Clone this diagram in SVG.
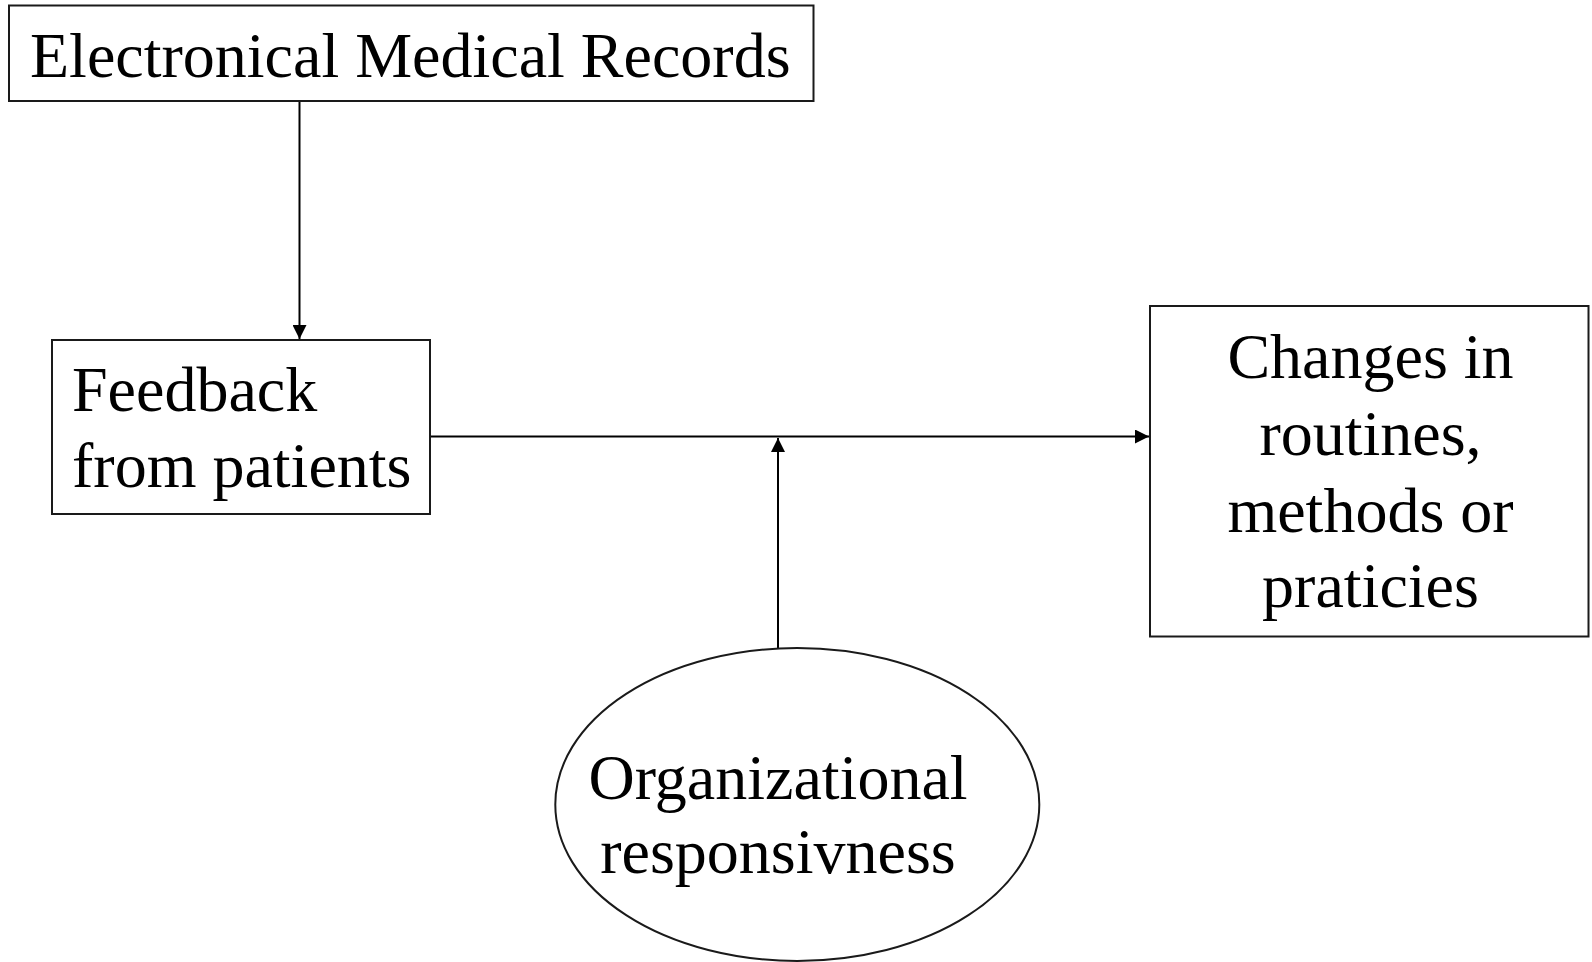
<svg xmlns="http://www.w3.org/2000/svg" width="1592" height="962" viewBox="0 0 1592 962">
<style>
.box{fill:#fff;stroke:#1a1a1a;stroke-width:2}
.t{font-family:"Liberation Serif","Times New Roman",serif;font-size:64px;fill:#000}
.c{text-anchor:middle}
.ln{stroke:#000;stroke-width:2;fill:none}
</style>
<defs>
<marker id="ah" markerUnits="userSpaceOnUse" markerWidth="14" markerHeight="14" refX="14" refY="7" orient="auto">
<path d="M0,0 L14,7 L0,14 z" fill="#000"/>
</marker>
</defs>
<rect width="1592" height="962" fill="#fff"/>
<g id="connectors">
<line class="ln" x1="299.5" y1="101" x2="299.5" y2="339" marker-end="url(#ah)"/>
<line class="ln" x1="430" y1="436.5" x2="1149" y2="436.5" marker-end="url(#ah)"/>
<line class="ln" x1="778" y1="648" x2="778" y2="438" marker-end="url(#ah)"/>
</g>
<g id="emr">
<rect class="box" x="9" y="5.5" width="804.5" height="95.5"/>
<text class="t" x="30" y="77">Electronical Medical Records</text>
</g>
<g id="feedback">
<rect class="box" x="52" y="340" width="378" height="174"/>
<text class="t" x="72" y="410.5">Feedback</text>
<text class="t" x="72" y="486.5">from patients</text>
</g>
<g id="changes">
<rect class="box" x="1150" y="306" width="438.5" height="330.5"/>
<text class="t c" x="1370.5" y="378">Changes in</text>
<text class="t c" x="1370.5" y="455">routines,</text>
<text class="t c" x="1370.5" y="531.5">methods or</text>
<text class="t c" x="1370.5" y="606.5">praticies</text>
</g>
<g id="org">
<ellipse class="box" cx="797.3" cy="804.5" rx="242" ry="156.5"/>
<text class="t c" x="778" y="799">Organizational</text>
<text class="t c" x="778" y="873">responsivness</text>
</g>
</svg>
